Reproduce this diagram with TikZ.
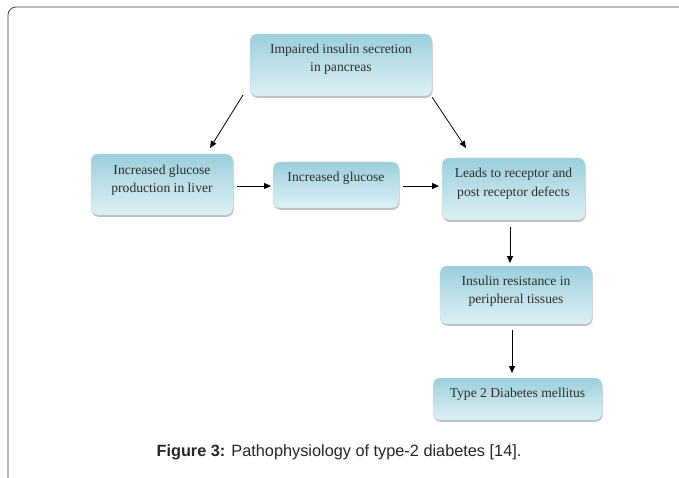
\documentclass[tikz,border=0pt]{standalone}
\usepackage{fontspec}
\setmainfont{Liberation Serif}
\newfontfamily\capfont{Liberation Sans}
\usetikzlibrary{shadows,arrows.meta}
\definecolor{boxdark}{HTML}{9ACFDC}
\definecolor{boxlight}{HTML}{DDF1F5}
\definecolor{txt}{HTML}{2E2E2E}
\newcommand\boxtext[2]{\raisebox{#1}[\height][\depth]{\begin{tabular}{@{}c@{}}#2\end{tabular}}}
\tikzset{
  flowbox/.style={rounded corners=7pt, draw=boxdark!80!black!40, line width=0.4pt,
    top color=boxdark, bottom color=boxlight, middle color=boxdark!65!white,
    drop shadow={shadow xshift=0.6pt, shadow yshift=-1.8pt, opacity=0.5, fill=gray},
    text=txt, font=\fontsize{13.6}{18.5}\selectfont, inner sep=0pt},
  flowarrow/.style={-{Triangle[length=7pt,width=6pt]}, line width=0.8pt, black}
}
\begin{document}
\begin{tikzpicture}[x=1pt,y=-1pt]
\useasboundingbox (0,0) rectangle (679,478);
\fill[white] (0,0) rectangle (679,478);
% frame
\draw[line width=0.8pt, black!75, rounded corners=8pt] (8,478) -- (8,7) -- (679,7);
% boxes
\node[flowbox, minimum width=182pt, minimum height=62pt] (a) at (341,65) {\boxtext{6pt}{Impaired insulin secretion\\in pancreas}};
\node[flowbox, minimum width=142pt, minimum height=61pt] (b) at (162,184.5) {\boxtext{4.5pt}{Increased glucose\\production in liver}};
\node[flowbox, minimum width=126pt, minimum height=46pt] (c) at (336,185) {\boxtext{7pt}{Increased glucose}};
\node[flowbox, minimum width=143pt, minimum height=62pt] (d) at (513.5,189) {\boxtext{5.5pt}{Leads to receptor and\\post receptor defects}};
\node[flowbox, minimum width=152pt, minimum height=58pt] (e) at (516,295) {\boxtext{4pt}{Insulin resistance in\\peripheral tissues}};
\node[flowbox, minimum width=169pt, minimum height=42pt] (f) at (517.5,399) {\boxtext{5.5pt}{Type 2 Diabetes mellitus}};
% arrow end points
\coordinate (a1) at (243,95);
\coordinate (b1) at (210,148);
\coordinate (a2) at (432,97);
\coordinate (d1) at (466,148);
\coordinate (b2) at (237,186);
\coordinate (c1) at (271,186);
\coordinate (c2) at (403,186);
\coordinate (d2) at (439,186);
\coordinate (d3) at (510,227);
\coordinate (e1) at (510,263);
\coordinate (e3) at (512,330);
\coordinate (f1) at (512,373);
\draw[flowarrow] (a1) -- (b1);
\draw[flowarrow] (a2) -- (d1);
\draw[flowarrow] (b2) -- (c1);
\draw[flowarrow] (c2) -- (d2);
\draw[flowarrow] (d3) -- (e1);
\draw[flowarrow] (e3) -- (f1);
% caption
\node[font=\capfont\fontsize{16.3}{19}\selectfont, text=black!85] (cap) at (339,452) {\textbf{Figure 3:} Pathophysiology of type-2 diabetes [14].};
\end{tikzpicture}
\end{document}
